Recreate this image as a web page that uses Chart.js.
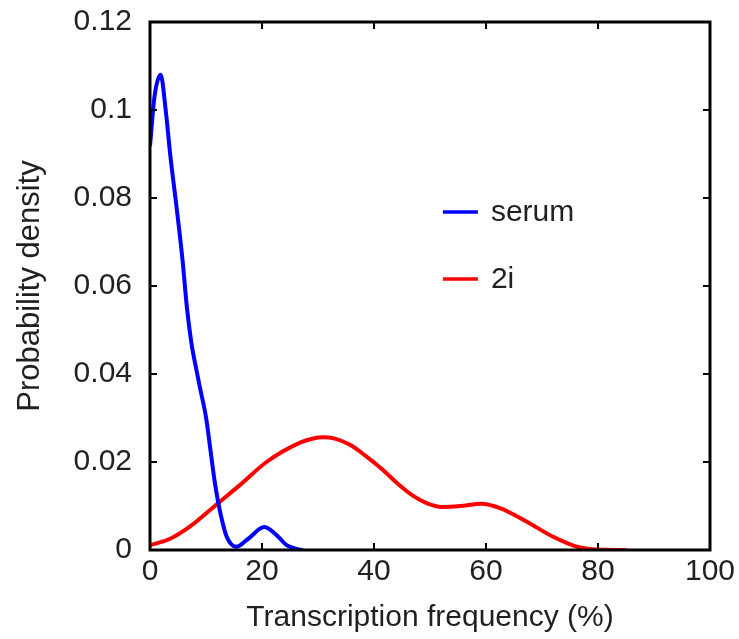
<!DOCTYPE html>
<html>
<head>
<meta charset="utf-8">
<script src="https://cdn.jsdelivr.net/npm/chart.js@4.4.0/dist/chart.umd.min.js"></script>
<style>
  html, body { margin: 0; padding: 0; background: #fff; }
  #wrap { width: 739px; height: 639px; }
</style>
</head>
<body>
<div id="wrap"><canvas id="densityChart" width="739" height="639"></canvas></div>
<script>
// values
const serumX = [0, 0.8, 1.9, 2.8, 3.6, 4.8, 5.8, 6.6, 7.4, 8.2, 8.9, 10.0, 10.8, 11.5, 12.2, 13.0, 13.7, 15.4, 17.5, 20.4, 22.5, 24.4, 26, 27.3];
const serumY = [0.0918, 0.103, 0.108, 0.100, 0.090, 0.0773, 0.066, 0.055, 0.047, 0.0415, 0.037, 0.0302, 0.0227, 0.016, 0.0107, 0.006, 0.003, 0.00075, 0.0025, 0.0052, 0.0035, 0.0011, 0.0003, 0];

const twoIX = [0, 3.5, 7.1, 12.2, 16.1, 20.8, 26.8, 29, 30.9, 33, 35.7, 38.5, 41.6, 44.3, 47, 49.5, 52.1, 55.4, 59.2, 62.5, 67.3, 72.0, 76.2, 79.8, 85.1];
const twoIY = [0.0011, 0.0025, 0.0053, 0.0107, 0.0148, 0.020, 0.0244, 0.0253, 0.0256, 0.0253, 0.0239, 0.0214, 0.0182, 0.015, 0.0123, 0.0106, 0.0098, 0.010, 0.0105, 0.0095, 0.0064, 0.003, 0.00076, 0.0001, 0];

const seriesNames = ["serum", "2i"];
const seriesColors = ["#0000ff", "#ff0000"];
const xTicks = [0, 20, 40, 60, 80, 100];
const yTicks = [0, 0.02, 0.04, 0.06, 0.08, 0.1, 0.12];

const textColor = "#231f20";
const fontFamily = "'Liberation Sans', Arial, sans-serif";

function toPoints(xs, ys) {
  return xs.map((x, i) => ({ x: x, y: ys[i] }));
}

// frame with inward ticks on all four sides, plus the legend inside the plot
const framePlugin = {
  id: "frame",
  afterDatasetsDraw(chart) {
    const ctx = chart.ctx;
    const a = chart.chartArea;
    const xs = chart.scales.x;
    const ys = chart.scales.y;
    ctx.save();
    ctx.strokeStyle = "#000";
    ctx.lineWidth = 3;
    ctx.strokeRect(a.left, a.top, a.right - a.left, a.bottom - a.top);
    ctx.lineWidth = 2;
    const len = 7;
    xTicks.forEach((v) => {
      const px = xs.getPixelForValue(v);
      ctx.beginPath();
      ctx.moveTo(px, a.bottom);
      ctx.lineTo(px, a.bottom - len);
      ctx.moveTo(px, a.top);
      ctx.lineTo(px, a.top + len);
      ctx.stroke();
    });
    yTicks.forEach((v) => {
      const py = ys.getPixelForValue(v);
      ctx.beginPath();
      ctx.moveTo(a.left, py);
      ctx.lineTo(a.left + len, py);
      ctx.moveTo(a.right, py);
      ctx.lineTo(a.right - len, py);
      ctx.stroke();
    });

    // legend
    const lx = xs.getPixelForValue(52.3);
    const rows = [0.0768, 0.0616];
    ctx.font = "30px " + fontFamily;
    ctx.textBaseline = "middle";
    ctx.fillStyle = textColor;
    seriesNames.forEach((name, i) => {
      const py = ys.getPixelForValue(rows[i]);
      ctx.strokeStyle = seriesColors[i];
      ctx.lineWidth = 3.5;
      ctx.beginPath();
      ctx.moveTo(lx, py);
      ctx.lineTo(lx + 35, py);
      ctx.stroke();
      ctx.fillText(name, lx + 48, py + 1);
    });
    ctx.restore();
  },
};

const ctx = document.getElementById("densityChart").getContext("2d");
new Chart(ctx, {
  type: "line",
  data: {
    datasets: [
      {
        label: seriesNames[0],
        data: toPoints(serumX, serumY),
        borderColor: seriesColors[0],
        borderWidth: 4,
        pointRadius: 0,
        fill: false,
        cubicInterpolationMode: "monotone",
      },
      {
        label: seriesNames[1],
        data: toPoints(twoIX, twoIY),
        borderColor: seriesColors[1],
        borderWidth: 4,
        pointRadius: 0,
        fill: false,
        cubicInterpolationMode: "monotone",
      },
    ],
  },
  options: {
    responsive: false,
    animation: false,
    layout: { padding: { top: 22, right: 29, left: 0, bottom: 0 } },
    scales: {
      x: {
        type: "linear",
        min: 0,
        max: 100,
        afterBuildTicks: (scale) => {
          scale.ticks = xTicks.map((v) => ({ value: v }));
        },
        afterFit: (scale) => {
          scale.height = 89;
          scale.paddingLeft = 0;
          scale.paddingRight = 0;
        },
        grid: { display: false, drawTicks: false },
        border: { display: false },
        ticks: {
          color: textColor,
          padding: 4,
          font: { family: fontFamily, size: 30 },
        },
        title: {
          display: true,
          text: "Transcription frequency (%)",
          color: textColor,
          font: { family: fontFamily, size: 30 },
          padding: { top: 4, bottom: 3 },
        },
      },
      y: {
        type: "linear",
        min: 0,
        max: 0.12,
        afterBuildTicks: (scale) => {
          scale.ticks = yTicks.map((v) => ({ value: v }));
        },
        afterFit: (scale) => {
          scale.width = 150;
          scale.paddingTop = 0;
          scale.paddingBottom = 0;
        },
        grid: { display: false, drawTicks: false },
        border: { display: false },
        ticks: {
          color: textColor,
          padding: 18,
          font: { family: fontFamily, size: 30 },
          callback: (v) => String(+v.toFixed(2)),
        },
        title: {
          display: true,
          text: "Probability density",
          color: textColor,
          font: { family: fontFamily, size: 31 },
          padding: { top: 12, bottom: 0 },
        },
      },
    },
    plugins: {
      legend: { display: false },
      tooltip: { enabled: false },
    },
  },
  plugins: [framePlugin],
});
</script>
</body>
</html>
